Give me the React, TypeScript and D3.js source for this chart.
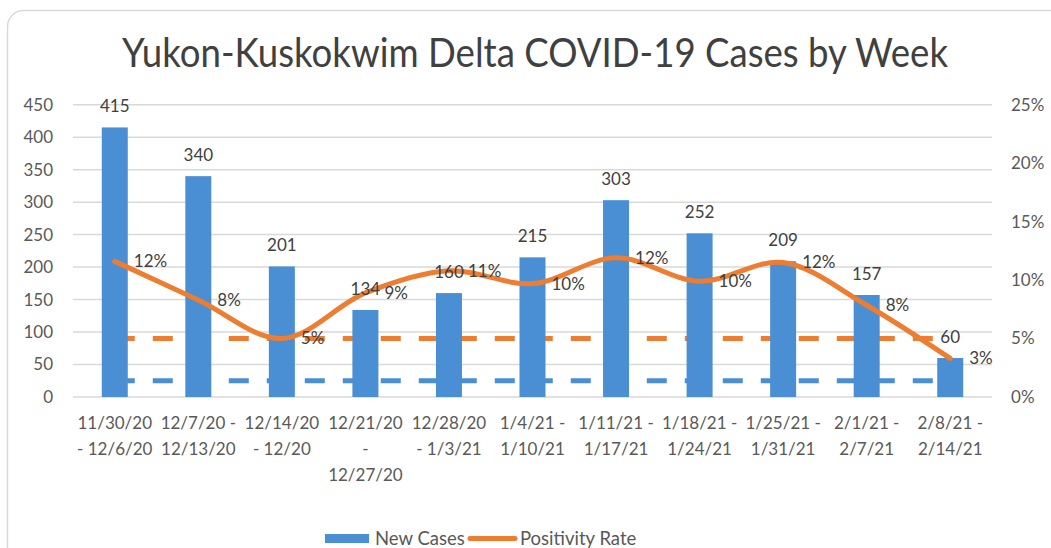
import * as d3 from "d3";

const weeks = [
  ["11/30/20", "- 12/6/20"],
  ["12/7/20 -", "12/13/20"],
  ["12/14/20", "- 12/20"],
  ["12/21/20", "-", "12/27/20"],
  ["12/28/20", "- 1/3/21"],
  ["1/4/21 -", "1/10/21"],
  ["1/11/21 -", "1/17/21"],
  ["1/18/21 -", "1/24/21"],
  ["1/25/21 -", "1/31/21"],
  ["2/1/21 -", "2/7/21"],
  ["2/8/21 -", "2/14/21"],
];
const newCases = [415, 340, 201, 134, 160, 215, 303, 252, 209, 157, 60];
const positivity = [11.6, 8.3, 5.0, 8.9, 10.8, 9.7, 11.9, 9.9, 11.5, 7.85, 3.3];
const positivityLabels = ["12%", "8%", "5%", "9%", "11%", "10%", "12%", "10%", "12%", "8%", "3%"];
const casesTicks = [0, 50, 100, 150, 200, 250, 300, 350, 400, 450];
const rateTicks = [0, 5, 10, 15, 20, 25];
const rateTarget = 5;
const casesTarget = 25;

const W = 1051;
const H = 548;
const margin = { top: 104.7, right: 59, bottom: 151, left: 73 };
const font = "Lato, 'Open Sans', sans-serif";
const textColor = "#595959";
const blue = "#4a8fd3";
const orange = "#ed7d31";

export default function App() {
  const idx = weeks.map((_, i) => String(i));
  const x = d3
    .scaleBand()
    .domain(idx)
    .range([margin.left, W - margin.right]);
  const yL = d3.scaleLinear().domain([0, 450]).range([H - margin.bottom, margin.top]);
  const yR = d3.scaleLinear().domain([0, 25]).range([H - margin.bottom, margin.top]);
  const cx = (i: number) => x(String(i))! + x.bandwidth() / 2;
  const barW = 26;

  // smoothed positivity line, like the spreadsheet's "smoothed line"
  const line = d3
    .line<number>()
    .x((_, i) => cx(i))
    .y((d) => yR(d))
    .curve(d3.curveCatmullRom.alpha(0.5));

  const x0 = cx(0);
  const x1 = cx(weeks.length - 1);

  return (
    <svg
      width={W}
      height={H}
      style={{ position: "absolute", left: 0, top: 0, background: "#fff" }}
      fontFamily={font}
    >
      <rect x={7.5} y={10.5} width={1080} height={600} rx={16} fill="#fff" stroke="#d9d9d9" strokeWidth={1.5} />
      <text
        x={122}
        y={67}
        fontSize={40}
        fill="#404040"
        textLength={826}
        lengthAdjust="spacingAndGlyphs"
      >
        Yukon-Kuskokwim Delta COVID-19 Cases by Week
      </text>

      {/* grid */}
      {casesTicks.map((t) => (
        <line
          key={t}
          x1={margin.left}
          x2={W - margin.right}
          y1={yL(t)}
          y2={yL(t)}
          stroke="#d9d9d9"
          strokeWidth={1.5}
        />
      ))}
      {casesTicks.map((t) => (
        <text key={t} x={53} y={yL(t)} dy="0.35em" textAnchor="end" fontSize={17} fill={textColor}>
          {t}
        </text>
      ))}
      {rateTicks.map((t) => (
        <text key={t} x={1011} y={yR(t)} dy="0.35em" textAnchor="start" fontSize={17} fill={textColor}>
          {t}%
        </text>
      ))}

      {/* target lines */}
      <line
        x1={x0}
        x2={x1}
        y1={yL(casesTarget)}
        y2={yL(casesTarget)}
        stroke={blue}
        strokeWidth={5}
        strokeDasharray="20,18"
      />
      <line
        x1={x0}
        x2={x1}
        y1={yR(rateTarget)}
        y2={yR(rateTarget)}
        stroke={orange}
        strokeWidth={5}
        strokeDasharray="20,18"
      />

      {/* bars */}
      {newCases.map((v, i) => (
        <rect key={i} x={cx(i) - barW / 2} y={yL(v)} width={barW} height={yL(0) - yL(v)} fill={blue} />
      ))}

      <path d={line(positivity)!} fill="none" stroke={orange} strokeWidth={5} strokeLinecap="round" />

      {newCases.map((v, i) => (
        <text key={i} x={cx(i)} y={yL(v) - 15} textAnchor="middle" fontSize={17} fill="#404040">
          {v}
        </text>
      ))}
      {positivity.map((v, i) => (
        <text key={i} x={cx(i) + 19} y={yR(v)} dy="0.35em" textAnchor="start" fontSize={17} fill="#404040">
          {positivityLabels[i]}
        </text>
      ))}

      {/* x labels */}
      {weeks.map((lines, i) => (
        <text key={i} x={cx(i)} textAnchor="middle" fontSize={17} fill={textColor}>
          {lines.map((l, j) => (
            <tspan key={j} x={cx(i)} y={423 + j * 26} dy="0.35em">
              {l}
            </tspan>
          ))}
        </text>
      ))}

      {/* legend */}
      <rect x={325} y={534} width={44} height={9} fill={blue} />
      <text x={375} y={538.5} dy="0.35em" fontSize={18.5} fill={textColor}>
        New Cases
      </text>
      <line x1={470} x2={515} y1={538.5} y2={538.5} stroke={orange} strokeWidth={5} strokeLinecap="round" />
      <text x={520} y={538.5} dy="0.35em" fontSize={18.5} fill={textColor}>
        Positivity Rate
      </text>
    </svg>
  );
}
